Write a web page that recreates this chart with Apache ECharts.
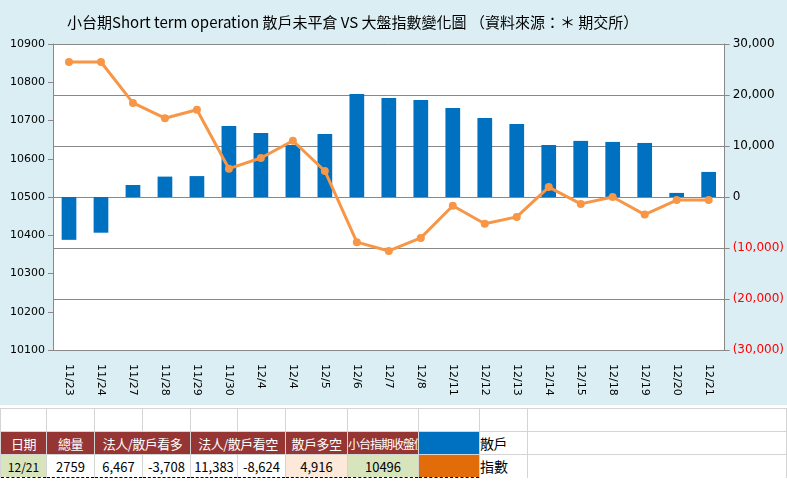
<!DOCTYPE html>
<html>
<head>
<meta charset="utf-8">
<script src="https://cdn.jsdelivr.net/npm/echarts@6/dist/echarts.min.js"></script>
<style>
  body { margin:0; width:787px; height:483px; overflow:hidden; background:#fff; font-family:"Noto Sans CJK TC","Noto Sans",sans-serif; }
  #main { width:787px; height:405px; background:#daeef3; }
  table { border-collapse:collapse; table-layout:fixed; position:absolute; top:408px; left:0; width:787px; }
  td { border:1px solid #d4d4d4; height:22px; padding:0; text-align:center; font-size:13px; white-space:nowrap; overflow:hidden; }
  tr.hd td { background:#963634; color:#fff; font-size:13px; letter-spacing:-0.5px; }
  tr.dt td { border-bottom:1px dashed #000; }
</style>
</head>
<body>
<div id="main"></div>
<table>
  <colgroup><col style="width:46px"><col style="width:48px"><col style="width:48px"><col style="width:48px"><col style="width:47px"><col style="width:48px"><col style="width:62px"><col style="width:71px"><col style="width:61px"><col style="width:48px"><col></colgroup>
  <tr><td></td><td></td><td></td><td></td><td></td><td></td><td></td><td></td><td></td><td></td><td></td></tr>
  <tr class="hd"><td>日期</td><td>總量</td><td colspan="2">法人/散戶看多</td><td colspan="2">法人/散戶看空</td><td>散戶多空</td><td style="font-size:12px;letter-spacing:-1px">小台指期收盤價</td><td style="background:#0070c0"></td><td style="background:#fff;color:#000;text-align:left;font-size:14px">散戶</td><td style="background:#fff"></td></tr>
  <tr class="dt"><td style="background:#d8e4bc;font-size:12px">12/21</td><td>2759</td><td>6,467</td><td>-3,708</td><td>11,383</td><td>-8,624</td><td style="background:#fde9d9">4,916</td><td style="background:#d8e4bc">10496</td><td style="background:#e26b0a"></td><td style="text-align:left;border-bottom:none;font-size:14px">指數</td><td style="border-bottom:none"></td></tr>
</table>
<script>
var dates = ['11/23','11/24','11/27','11/28','11/29','11/30','12/4','12/4','12/5','12/6','12/7','12/8','12/11','12/12','12/13','12/14','12/15','12/18','12/19','12/20','12/21'];
var retailNet = [-8400,-7000,2350,4000,4100,13900,12550,10200,12350,20200,19400,19000,17450,15500,14300,10200,11000,10800,10600,800,4916];
var indexClose = [10853,10853,10746,10706,10728,10574,10602,10647,10568,10382,10359,10393,10477,10430,10448,10526,10482,10500,10454,10492,10492];

var myChart = echarts.init(document.getElementById('main'));
var option = {
    animation: false,
    title: {
        text: '小台期Short term operation 散戶未平倉 VS 大盤指數變化圖 （資料來源：＊ 期交所）',
        left: 62, top: 10,
        textStyle: { fontSize: 15, fontWeight: 'normal', color: '#000', fontFamily: 'Noto Sans CJK TC' }
    },
    grid: { left: 53, right: 59, top: 44, bottom: 55, show: true, backgroundColor: '#fff', borderWidth: 0 },
    xAxis: {
        type: 'category',
        data: dates,
        axisLine: { onZero: false, lineStyle: { color: '#888' } },
        axisTick: { show: false },
        axisLabel: { rotate: -90, color: '#000', fontSize: 11, fontFamily: 'DejaVu Sans', margin: 14 }
    },
    yAxis: [
        {
            type: 'value', min: 10100, max: 10900, interval: 100,
            axisLine: { show: true, lineStyle: { color: '#888' } },
            axisTick: { show: true, lineStyle: { color: '#888' } },
            axisLabel: { color: '#000', fontSize: 11, fontFamily: 'DejaVu Sans', formatter: function (v) { return String(v); } },
            splitLine: { show: false }
        },
        {
            type: 'value', min: -30000, max: 30000, interval: 10000,
            axisLine: { show: true, lineStyle: { color: '#888' } },
            axisTick: { show: true, lineStyle: { color: '#888' } },
            axisLabel: {
                fontSize: 12, fontFamily: 'DejaVu Sans',
                formatter: function (v) {
                    var s = Math.abs(v).toLocaleString('en-US');
                    return v < 0 ? '{n|(' + s + ')}' : '{p|' + s + '}';
                },
                rich: { n: { color: '#ff0000', fontSize: 12 }, p: { color: '#000', fontSize: 12 } }
            },
            splitLine: { show: true, lineStyle: { color: '#888' } }
        }
    ],
    series: [
        {
            name: '散戶', type: 'bar', yAxisIndex: 1, data: retailNet,
            barWidth: '46%', itemStyle: { color: '#0070c0' }
        },
        {
            name: '指數', type: 'line', yAxisIndex: 0, data: indexClose,
            symbol: 'circle', symbolSize: 8,
            lineStyle: { color: '#f79646', width: 3 }, itemStyle: { color: '#f79646' }
        }
    ]
};
myChart.setOption(option);
</script>
</body>
</html>
